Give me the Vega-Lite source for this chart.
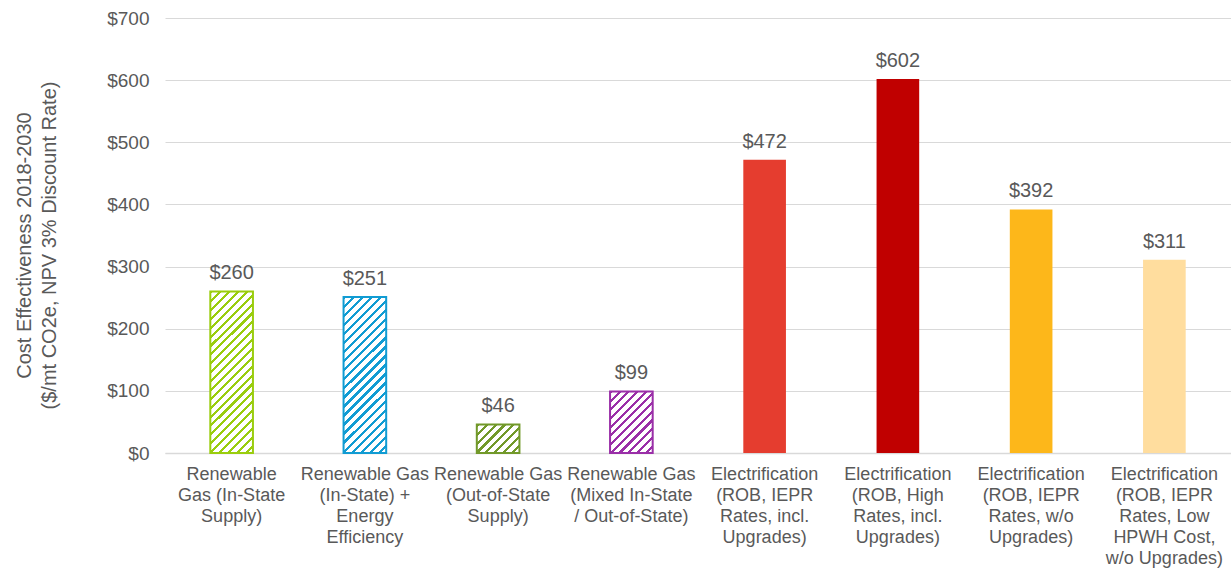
{
  "$schema": "https://vega.github.io/schema/vega-lite/v6.json",
  "width": 1066,
  "height": 435,
  "autosize": {"type": "none"},
  "padding": {"left": 165, "top": 18, "right": 0, "bottom": 116},
  "background": "white",
  "config": {
    "view": {"stroke": null},
    "font": "Liberation Sans"
  },
  "data": {
    "values": [
      {"id": 1, "label": "Renewable|Gas (In-State|Supply)", "value": 260},
      {"id": 2, "label": "Renewable Gas|(In-State) +|Energy|Efficiency", "value": 251},
      {"id": 3, "label": "Renewable Gas|(Out-of-State|Supply)", "value": 46},
      {"id": 4, "label": "Renewable Gas|(Mixed In-State|/ Out-of-State)", "value": 99},
      {"id": 5, "label": "Electrification|(ROB, IEPR|Rates, incl.|Upgrades)", "value": 472},
      {"id": 6, "label": "Electrification|(ROB, High|Rates, incl.|Upgrades)", "value": 602},
      {"id": 7, "label": "Electrification|(ROB, IEPR|Rates, w/o|Upgrades)", "value": 392},
      {"id": 8, "label": "Electrification|(ROB, IEPR|Rates, Low|HPWH Cost,|w/o Upgrades)", "value": 311}
    ]
  },
  "encoding": {
    "x": {
      "field": "label",
      "type": "nominal",
      "sort": null,
      "scale": {
        "domain": [
          "Renewable|Gas (In-State|Supply)",
          "Renewable Gas|(In-State) +|Energy|Efficiency",
          "Renewable Gas|(Out-of-State|Supply)",
          "Renewable Gas|(Mixed In-State|/ Out-of-State)",
          "Electrification|(ROB, IEPR|Rates, incl.|Upgrades)",
          "Electrification|(ROB, High|Rates, incl.|Upgrades)",
          "Electrification|(ROB, IEPR|Rates, w/o|Upgrades)",
          "Electrification|(ROB, IEPR|Rates, Low|HPWH Cost,|w/o Upgrades)"
        ],
        "paddingInner": 0.68,
        "paddingOuter": 0.34
      },
      "axis": {
        "title": null,
        "labelAngle": 0,
        "labelExpr": "split(datum.label, '|')",
        "labelFontSize": 18,
        "labelLineHeight": 21,
        "labelColor": "#595959",
        "labelPadding": 12,
        "labelLimit": 300,
        "labelOverlap": false,
        "labelBaseline": "top",
        "ticks": false,
        "domainColor": "#D9D9D9",
        "domainWidth": 1.5
      }
    },
    "y": {
      "field": "value",
      "type": "quantitative",
      "scale": {"domain": [0, 700]},
      "axis": {
        "values": [0, 100, 200, 300, 400, 500, 600, 700],
        "format": "$,.0f",
        "title": ["Cost Effectiveness 2018-2030", "($/mt CO2e, NPV 3% Discount Rate)"],
        "titleFontSize": 20,
        "titleFontWeight": "normal",
        "titleColor": "#595959",
        "titleLineHeight": 25,
        "titlePadding": 47,
        "titleY": 227,
        "labelFontSize": 19,
        "labelColor": "#595959",
        "labelPadding": 16,
        "domain": false,
        "ticks": false,
        "gridColor": "#D9D9D9",
        "gridWidth": 1
      }
    }
  },
  "layer": [
    {
      "transform": [{"filter": "datum.id >= 5"}],
      "mark": {"type": "bar"},
      "encoding": {
        "color": {
          "field": "id",
          "type": "nominal",
          "scale": {"domain": [5, 6, 7, 8], "range": ["#E53D2F", "#C00000", "#FDB71A", "#FFDD9E"]},
          "legend": null
        }
      }
    },
    {
      "transform": [{"filter": "datum.id == 1"}],
      "mark": {
        "type": "bar",
        "stroke": "#9ACD0E",
        "strokeWidth": 2,
        "fill": {
          "gradient": "linear", "x1": 0, "y1": 0, "x2": 0.3115, "y2": 1.1815,
          "stops": [
            {"offset": 0, "color": "#9ACD0E"}, {"offset": 0.01522, "color": "#9ACD0E"}, {"offset": 0.01522, "color": "#FFFFFF"}, {"offset": 0.04348, "color": "#FFFFFF"},
            {"offset": 0.04348, "color": "#9ACD0E"}, {"offset": 0.0587, "color": "#9ACD0E"}, {"offset": 0.0587, "color": "#FFFFFF"}, {"offset": 0.08696, "color": "#FFFFFF"},
            {"offset": 0.08696, "color": "#9ACD0E"}, {"offset": 0.10217, "color": "#9ACD0E"}, {"offset": 0.10217, "color": "#FFFFFF"}, {"offset": 0.13043, "color": "#FFFFFF"},
            {"offset": 0.13043, "color": "#9ACD0E"}, {"offset": 0.14565, "color": "#9ACD0E"}, {"offset": 0.14565, "color": "#FFFFFF"}, {"offset": 0.17391, "color": "#FFFFFF"},
            {"offset": 0.17391, "color": "#9ACD0E"}, {"offset": 0.18913, "color": "#9ACD0E"}, {"offset": 0.18913, "color": "#FFFFFF"}, {"offset": 0.21739, "color": "#FFFFFF"},
            {"offset": 0.21739, "color": "#9ACD0E"}, {"offset": 0.23261, "color": "#9ACD0E"}, {"offset": 0.23261, "color": "#FFFFFF"}, {"offset": 0.26087, "color": "#FFFFFF"},
            {"offset": 0.26087, "color": "#9ACD0E"}, {"offset": 0.27609, "color": "#9ACD0E"}, {"offset": 0.27609, "color": "#FFFFFF"}, {"offset": 0.30435, "color": "#FFFFFF"},
            {"offset": 0.30435, "color": "#9ACD0E"}, {"offset": 0.31957, "color": "#9ACD0E"}, {"offset": 0.31957, "color": "#FFFFFF"}, {"offset": 0.34783, "color": "#FFFFFF"},
            {"offset": 0.34783, "color": "#9ACD0E"}, {"offset": 0.36304, "color": "#9ACD0E"}, {"offset": 0.36304, "color": "#FFFFFF"}, {"offset": 0.3913, "color": "#FFFFFF"},
            {"offset": 0.3913, "color": "#9ACD0E"}, {"offset": 0.40652, "color": "#9ACD0E"}, {"offset": 0.40652, "color": "#FFFFFF"}, {"offset": 0.43478, "color": "#FFFFFF"},
            {"offset": 0.43478, "color": "#9ACD0E"}, {"offset": 0.45, "color": "#9ACD0E"}, {"offset": 0.45, "color": "#FFFFFF"}, {"offset": 0.47826, "color": "#FFFFFF"},
            {"offset": 0.47826, "color": "#9ACD0E"}, {"offset": 0.49348, "color": "#9ACD0E"}, {"offset": 0.49348, "color": "#FFFFFF"}, {"offset": 0.52174, "color": "#FFFFFF"},
            {"offset": 0.52174, "color": "#9ACD0E"}, {"offset": 0.53696, "color": "#9ACD0E"}, {"offset": 0.53696, "color": "#FFFFFF"}, {"offset": 0.56522, "color": "#FFFFFF"},
            {"offset": 0.56522, "color": "#9ACD0E"}, {"offset": 0.58043, "color": "#9ACD0E"}, {"offset": 0.58043, "color": "#FFFFFF"}, {"offset": 0.6087, "color": "#FFFFFF"},
            {"offset": 0.6087, "color": "#9ACD0E"}, {"offset": 0.62391, "color": "#9ACD0E"}, {"offset": 0.62391, "color": "#FFFFFF"}, {"offset": 0.65217, "color": "#FFFFFF"},
            {"offset": 0.65217, "color": "#9ACD0E"}, {"offset": 0.66739, "color": "#9ACD0E"}, {"offset": 0.66739, "color": "#FFFFFF"}, {"offset": 0.69565, "color": "#FFFFFF"},
            {"offset": 0.69565, "color": "#9ACD0E"}, {"offset": 0.71087, "color": "#9ACD0E"}, {"offset": 0.71087, "color": "#FFFFFF"}, {"offset": 0.73913, "color": "#FFFFFF"},
            {"offset": 0.73913, "color": "#9ACD0E"}, {"offset": 0.75435, "color": "#9ACD0E"}, {"offset": 0.75435, "color": "#FFFFFF"}, {"offset": 0.78261, "color": "#FFFFFF"},
            {"offset": 0.78261, "color": "#9ACD0E"}, {"offset": 0.79783, "color": "#9ACD0E"}, {"offset": 0.79783, "color": "#FFFFFF"}, {"offset": 0.82609, "color": "#FFFFFF"},
            {"offset": 0.82609, "color": "#9ACD0E"}, {"offset": 0.8413, "color": "#9ACD0E"}, {"offset": 0.8413, "color": "#FFFFFF"}, {"offset": 0.86957, "color": "#FFFFFF"},
            {"offset": 0.86957, "color": "#9ACD0E"}, {"offset": 0.88478, "color": "#9ACD0E"}, {"offset": 0.88478, "color": "#FFFFFF"}, {"offset": 0.91304, "color": "#FFFFFF"},
            {"offset": 0.91304, "color": "#9ACD0E"}, {"offset": 0.92826, "color": "#9ACD0E"}, {"offset": 0.92826, "color": "#FFFFFF"}, {"offset": 0.95652, "color": "#FFFFFF"},
            {"offset": 0.95652, "color": "#9ACD0E"}, {"offset": 0.97174, "color": "#9ACD0E"}, {"offset": 0.97174, "color": "#FFFFFF"}, {"offset": 1, "color": "#FFFFFF"}
          ]
        }
      }
    },
    {
      "transform": [{"filter": "datum.id == 2"}],
      "mark": {
        "type": "bar",
        "stroke": "#119CD3",
        "strokeWidth": 2,
        "fill": {
          "gradient": "linear", "x1": 0, "y1": 0, "x2": 0.3235, "y2": 1.1847,
          "stops": [
            {"offset": 0, "color": "#119CD3"}, {"offset": 0.01591, "color": "#119CD3"}, {"offset": 0.01591, "color": "#FFFFFF"}, {"offset": 0.04545, "color": "#FFFFFF"},
            {"offset": 0.04545, "color": "#119CD3"}, {"offset": 0.06136, "color": "#119CD3"}, {"offset": 0.06136, "color": "#FFFFFF"}, {"offset": 0.09091, "color": "#FFFFFF"},
            {"offset": 0.09091, "color": "#119CD3"}, {"offset": 0.10682, "color": "#119CD3"}, {"offset": 0.10682, "color": "#FFFFFF"}, {"offset": 0.13636, "color": "#FFFFFF"},
            {"offset": 0.13636, "color": "#119CD3"}, {"offset": 0.15227, "color": "#119CD3"}, {"offset": 0.15227, "color": "#FFFFFF"}, {"offset": 0.18182, "color": "#FFFFFF"},
            {"offset": 0.18182, "color": "#119CD3"}, {"offset": 0.19773, "color": "#119CD3"}, {"offset": 0.19773, "color": "#FFFFFF"}, {"offset": 0.22727, "color": "#FFFFFF"},
            {"offset": 0.22727, "color": "#119CD3"}, {"offset": 0.24318, "color": "#119CD3"}, {"offset": 0.24318, "color": "#FFFFFF"}, {"offset": 0.27273, "color": "#FFFFFF"},
            {"offset": 0.27273, "color": "#119CD3"}, {"offset": 0.28864, "color": "#119CD3"}, {"offset": 0.28864, "color": "#FFFFFF"}, {"offset": 0.31818, "color": "#FFFFFF"},
            {"offset": 0.31818, "color": "#119CD3"}, {"offset": 0.33409, "color": "#119CD3"}, {"offset": 0.33409, "color": "#FFFFFF"}, {"offset": 0.36364, "color": "#FFFFFF"},
            {"offset": 0.36364, "color": "#119CD3"}, {"offset": 0.37955, "color": "#119CD3"}, {"offset": 0.37955, "color": "#FFFFFF"}, {"offset": 0.40909, "color": "#FFFFFF"},
            {"offset": 0.40909, "color": "#119CD3"}, {"offset": 0.425, "color": "#119CD3"}, {"offset": 0.425, "color": "#FFFFFF"}, {"offset": 0.45455, "color": "#FFFFFF"},
            {"offset": 0.45455, "color": "#119CD3"}, {"offset": 0.47045, "color": "#119CD3"}, {"offset": 0.47045, "color": "#FFFFFF"}, {"offset": 0.5, "color": "#FFFFFF"},
            {"offset": 0.5, "color": "#119CD3"}, {"offset": 0.51591, "color": "#119CD3"}, {"offset": 0.51591, "color": "#FFFFFF"}, {"offset": 0.54545, "color": "#FFFFFF"},
            {"offset": 0.54545, "color": "#119CD3"}, {"offset": 0.56136, "color": "#119CD3"}, {"offset": 0.56136, "color": "#FFFFFF"}, {"offset": 0.59091, "color": "#FFFFFF"},
            {"offset": 0.59091, "color": "#119CD3"}, {"offset": 0.60682, "color": "#119CD3"}, {"offset": 0.60682, "color": "#FFFFFF"}, {"offset": 0.63636, "color": "#FFFFFF"},
            {"offset": 0.63636, "color": "#119CD3"}, {"offset": 0.65227, "color": "#119CD3"}, {"offset": 0.65227, "color": "#FFFFFF"}, {"offset": 0.68182, "color": "#FFFFFF"},
            {"offset": 0.68182, "color": "#119CD3"}, {"offset": 0.69773, "color": "#119CD3"}, {"offset": 0.69773, "color": "#FFFFFF"}, {"offset": 0.72727, "color": "#FFFFFF"},
            {"offset": 0.72727, "color": "#119CD3"}, {"offset": 0.74318, "color": "#119CD3"}, {"offset": 0.74318, "color": "#FFFFFF"}, {"offset": 0.77273, "color": "#FFFFFF"},
            {"offset": 0.77273, "color": "#119CD3"}, {"offset": 0.78864, "color": "#119CD3"}, {"offset": 0.78864, "color": "#FFFFFF"}, {"offset": 0.81818, "color": "#FFFFFF"},
            {"offset": 0.81818, "color": "#119CD3"}, {"offset": 0.83409, "color": "#119CD3"}, {"offset": 0.83409, "color": "#FFFFFF"}, {"offset": 0.86364, "color": "#FFFFFF"},
            {"offset": 0.86364, "color": "#119CD3"}, {"offset": 0.87955, "color": "#119CD3"}, {"offset": 0.87955, "color": "#FFFFFF"}, {"offset": 0.90909, "color": "#FFFFFF"},
            {"offset": 0.90909, "color": "#119CD3"}, {"offset": 0.925, "color": "#119CD3"}, {"offset": 0.925, "color": "#FFFFFF"}, {"offset": 0.95455, "color": "#FFFFFF"},
            {"offset": 0.95455, "color": "#119CD3"}, {"offset": 0.97045, "color": "#119CD3"}, {"offset": 0.97045, "color": "#FFFFFF"}, {"offset": 1, "color": "#FFFFFF"}
          ]
        }
      }
    },
    {
      "transform": [{"filter": "datum.id == 3"}],
      "mark": {
        "type": "bar",
        "stroke": "#72992A",
        "strokeWidth": 2,
        "fill": {
          "gradient": "linear", "x1": 0, "y1": 0, "x2": 1.152, "y2": 0.7734,
          "stops": [
            {"offset": 0, "color": "#72992A"}, {"offset": 0.04375, "color": "#72992A"}, {"offset": 0.04375, "color": "#FFFFFF"}, {"offset": 0.125, "color": "#FFFFFF"},
            {"offset": 0.125, "color": "#72992A"}, {"offset": 0.16875, "color": "#72992A"}, {"offset": 0.16875, "color": "#FFFFFF"}, {"offset": 0.25, "color": "#FFFFFF"},
            {"offset": 0.25, "color": "#72992A"}, {"offset": 0.29375, "color": "#72992A"}, {"offset": 0.29375, "color": "#FFFFFF"}, {"offset": 0.375, "color": "#FFFFFF"},
            {"offset": 0.375, "color": "#72992A"}, {"offset": 0.41875, "color": "#72992A"}, {"offset": 0.41875, "color": "#FFFFFF"}, {"offset": 0.5, "color": "#FFFFFF"},
            {"offset": 0.5, "color": "#72992A"}, {"offset": 0.54375, "color": "#72992A"}, {"offset": 0.54375, "color": "#FFFFFF"}, {"offset": 0.625, "color": "#FFFFFF"},
            {"offset": 0.625, "color": "#72992A"}, {"offset": 0.66875, "color": "#72992A"}, {"offset": 0.66875, "color": "#FFFFFF"}, {"offset": 0.75, "color": "#FFFFFF"},
            {"offset": 0.75, "color": "#72992A"}, {"offset": 0.79375, "color": "#72992A"}, {"offset": 0.79375, "color": "#FFFFFF"}, {"offset": 0.875, "color": "#FFFFFF"},
            {"offset": 0.875, "color": "#72992A"}, {"offset": 0.91875, "color": "#72992A"}, {"offset": 0.91875, "color": "#FFFFFF"}, {"offset": 1, "color": "#FFFFFF"}
          ]
        }
      }
    },
    {
      "transform": [{"filter": "datum.id == 4"}],
      "mark": {
        "type": "bar",
        "stroke": "#9A2FA8",
        "strokeWidth": 2,
        "fill": {
          "gradient": "linear", "x1": 0, "y1": 0, "x2": 0.7923, "y2": 1.1439,
          "stops": [
            {"offset": 0, "color": "#9A2FA8"}, {"offset": 0.02917, "color": "#9A2FA8"}, {"offset": 0.02917, "color": "#FFFFFF"}, {"offset": 0.08333, "color": "#FFFFFF"},
            {"offset": 0.08333, "color": "#9A2FA8"}, {"offset": 0.1125, "color": "#9A2FA8"}, {"offset": 0.1125, "color": "#FFFFFF"}, {"offset": 0.16667, "color": "#FFFFFF"},
            {"offset": 0.16667, "color": "#9A2FA8"}, {"offset": 0.19583, "color": "#9A2FA8"}, {"offset": 0.19583, "color": "#FFFFFF"}, {"offset": 0.25, "color": "#FFFFFF"},
            {"offset": 0.25, "color": "#9A2FA8"}, {"offset": 0.27917, "color": "#9A2FA8"}, {"offset": 0.27917, "color": "#FFFFFF"}, {"offset": 0.33333, "color": "#FFFFFF"},
            {"offset": 0.33333, "color": "#9A2FA8"}, {"offset": 0.3625, "color": "#9A2FA8"}, {"offset": 0.3625, "color": "#FFFFFF"}, {"offset": 0.41667, "color": "#FFFFFF"},
            {"offset": 0.41667, "color": "#9A2FA8"}, {"offset": 0.44583, "color": "#9A2FA8"}, {"offset": 0.44583, "color": "#FFFFFF"}, {"offset": 0.5, "color": "#FFFFFF"},
            {"offset": 0.5, "color": "#9A2FA8"}, {"offset": 0.52917, "color": "#9A2FA8"}, {"offset": 0.52917, "color": "#FFFFFF"}, {"offset": 0.58333, "color": "#FFFFFF"},
            {"offset": 0.58333, "color": "#9A2FA8"}, {"offset": 0.6125, "color": "#9A2FA8"}, {"offset": 0.6125, "color": "#FFFFFF"}, {"offset": 0.66667, "color": "#FFFFFF"},
            {"offset": 0.66667, "color": "#9A2FA8"}, {"offset": 0.69583, "color": "#9A2FA8"}, {"offset": 0.69583, "color": "#FFFFFF"}, {"offset": 0.75, "color": "#FFFFFF"},
            {"offset": 0.75, "color": "#9A2FA8"}, {"offset": 0.77917, "color": "#9A2FA8"}, {"offset": 0.77917, "color": "#FFFFFF"}, {"offset": 0.83333, "color": "#FFFFFF"},
            {"offset": 0.83333, "color": "#9A2FA8"}, {"offset": 0.8625, "color": "#9A2FA8"}, {"offset": 0.8625, "color": "#FFFFFF"}, {"offset": 0.91667, "color": "#FFFFFF"},
            {"offset": 0.91667, "color": "#9A2FA8"}, {"offset": 0.94583, "color": "#9A2FA8"}, {"offset": 0.94583, "color": "#FFFFFF"}, {"offset": 1, "color": "#FFFFFF"}
          ]
        }
      }
    },
    {
      "mark": {"type": "text", "dy": -12, "baseline": "alphabetic", "fontSize": 20, "color": "#595959"},
      "encoding": {
        "text": {"field": "value", "type": "quantitative", "format": "$,.0f"}
      }
    }
  ]
}
